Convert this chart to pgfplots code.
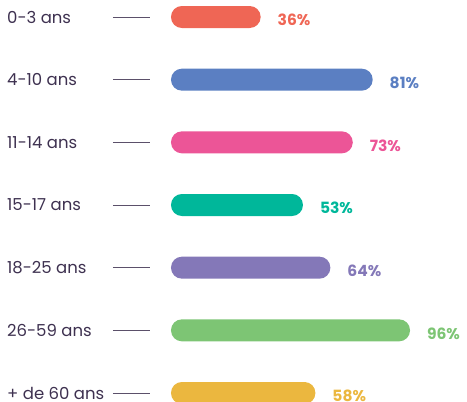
\documentclass[border=0pt]{standalone}
\usepackage{pgfplots}
\pgfplotsset{compat=1.18}
\usepackage{fontspec}
\setmainfont{Poppins}
\definecolor{labcol}{HTML}{3E3150}
\definecolor{c1}{HTML}{EF6655}
\definecolor{c2}{HTML}{5B7FC2}
\definecolor{c3}{HTML}{EC5597}
\definecolor{c4}{HTML}{00B79A}
\definecolor{c5}{HTML}{8478B8}
\definecolor{c6}{HTML}{7DC574}
\definecolor{c7}{HTML}{EBB73F}
\begin{document}
\begin{tikzpicture}[x=1pt,y=1pt]
\useasboundingbox (0,0) rectangle (467,402);
\clip (0,0) rectangle (467,402);
\begin{axis}[
  at={(171pt,385pt)}, anchor=north west,
  scale only axis, width=249pt, height=376pt,
  xmin=0, xmax=100, ymin=0, ymax=6,
  y dir=reverse, clip=false,
  axis x line=none, axis y line*=left,
  y axis line style={draw=none},
  ytick={0,...,6},
  yticklabels={0-3 ans,4-10 ans,11-14 ans,15-17 ans,18-25 ans,26-59 ans,+ de 60 ans},
  yticklabel style={anchor=west, xshift=-127pt, font=\fontsize{16.5}{18}\selectfont, text=labcol, inner sep=0pt},
  tick align=outside, major tick length=37pt,
  ytick style={draw=labcol!85, line width=1pt, xshift=-21pt},
  xbar, bar shift=0pt, bar width=22pt,
  every axis plot/.append style={draw=none, rounded corners=10.9pt},
  /pgf/number format/assume math mode=true,
  nodes near coords={\pgfmathprintnumber{\pgfplotspointmeta}\%},
  point meta=x,
  every node near coord/.append style={anchor=west, xshift=13.5pt, yshift=-3pt, font=\fontsize{15.5}{17}\selectfont\bfseries, rounded corners=0pt},
]
\addplot[fill=c1, every node near coord/.append style={text=c1}] coordinates {(36,0)};
\addplot[fill=c2, every node near coord/.append style={text=c2}] coordinates {(81,1)};
\addplot[fill=c3, every node near coord/.append style={text=c3}] coordinates {(73,2)};
\addplot[fill=c4, every node near coord/.append style={text=c4}] coordinates {(53,3)};
\addplot[fill=c5, every node near coord/.append style={text=c5}] coordinates {(64,4)};
\addplot[fill=c6, every node near coord/.append style={text=c6}] coordinates {(96,5)};
\addplot[fill=c7, every node near coord/.append style={text=c7}] coordinates {(58,6)};
\end{axis}
\end{tikzpicture}
\end{document}
